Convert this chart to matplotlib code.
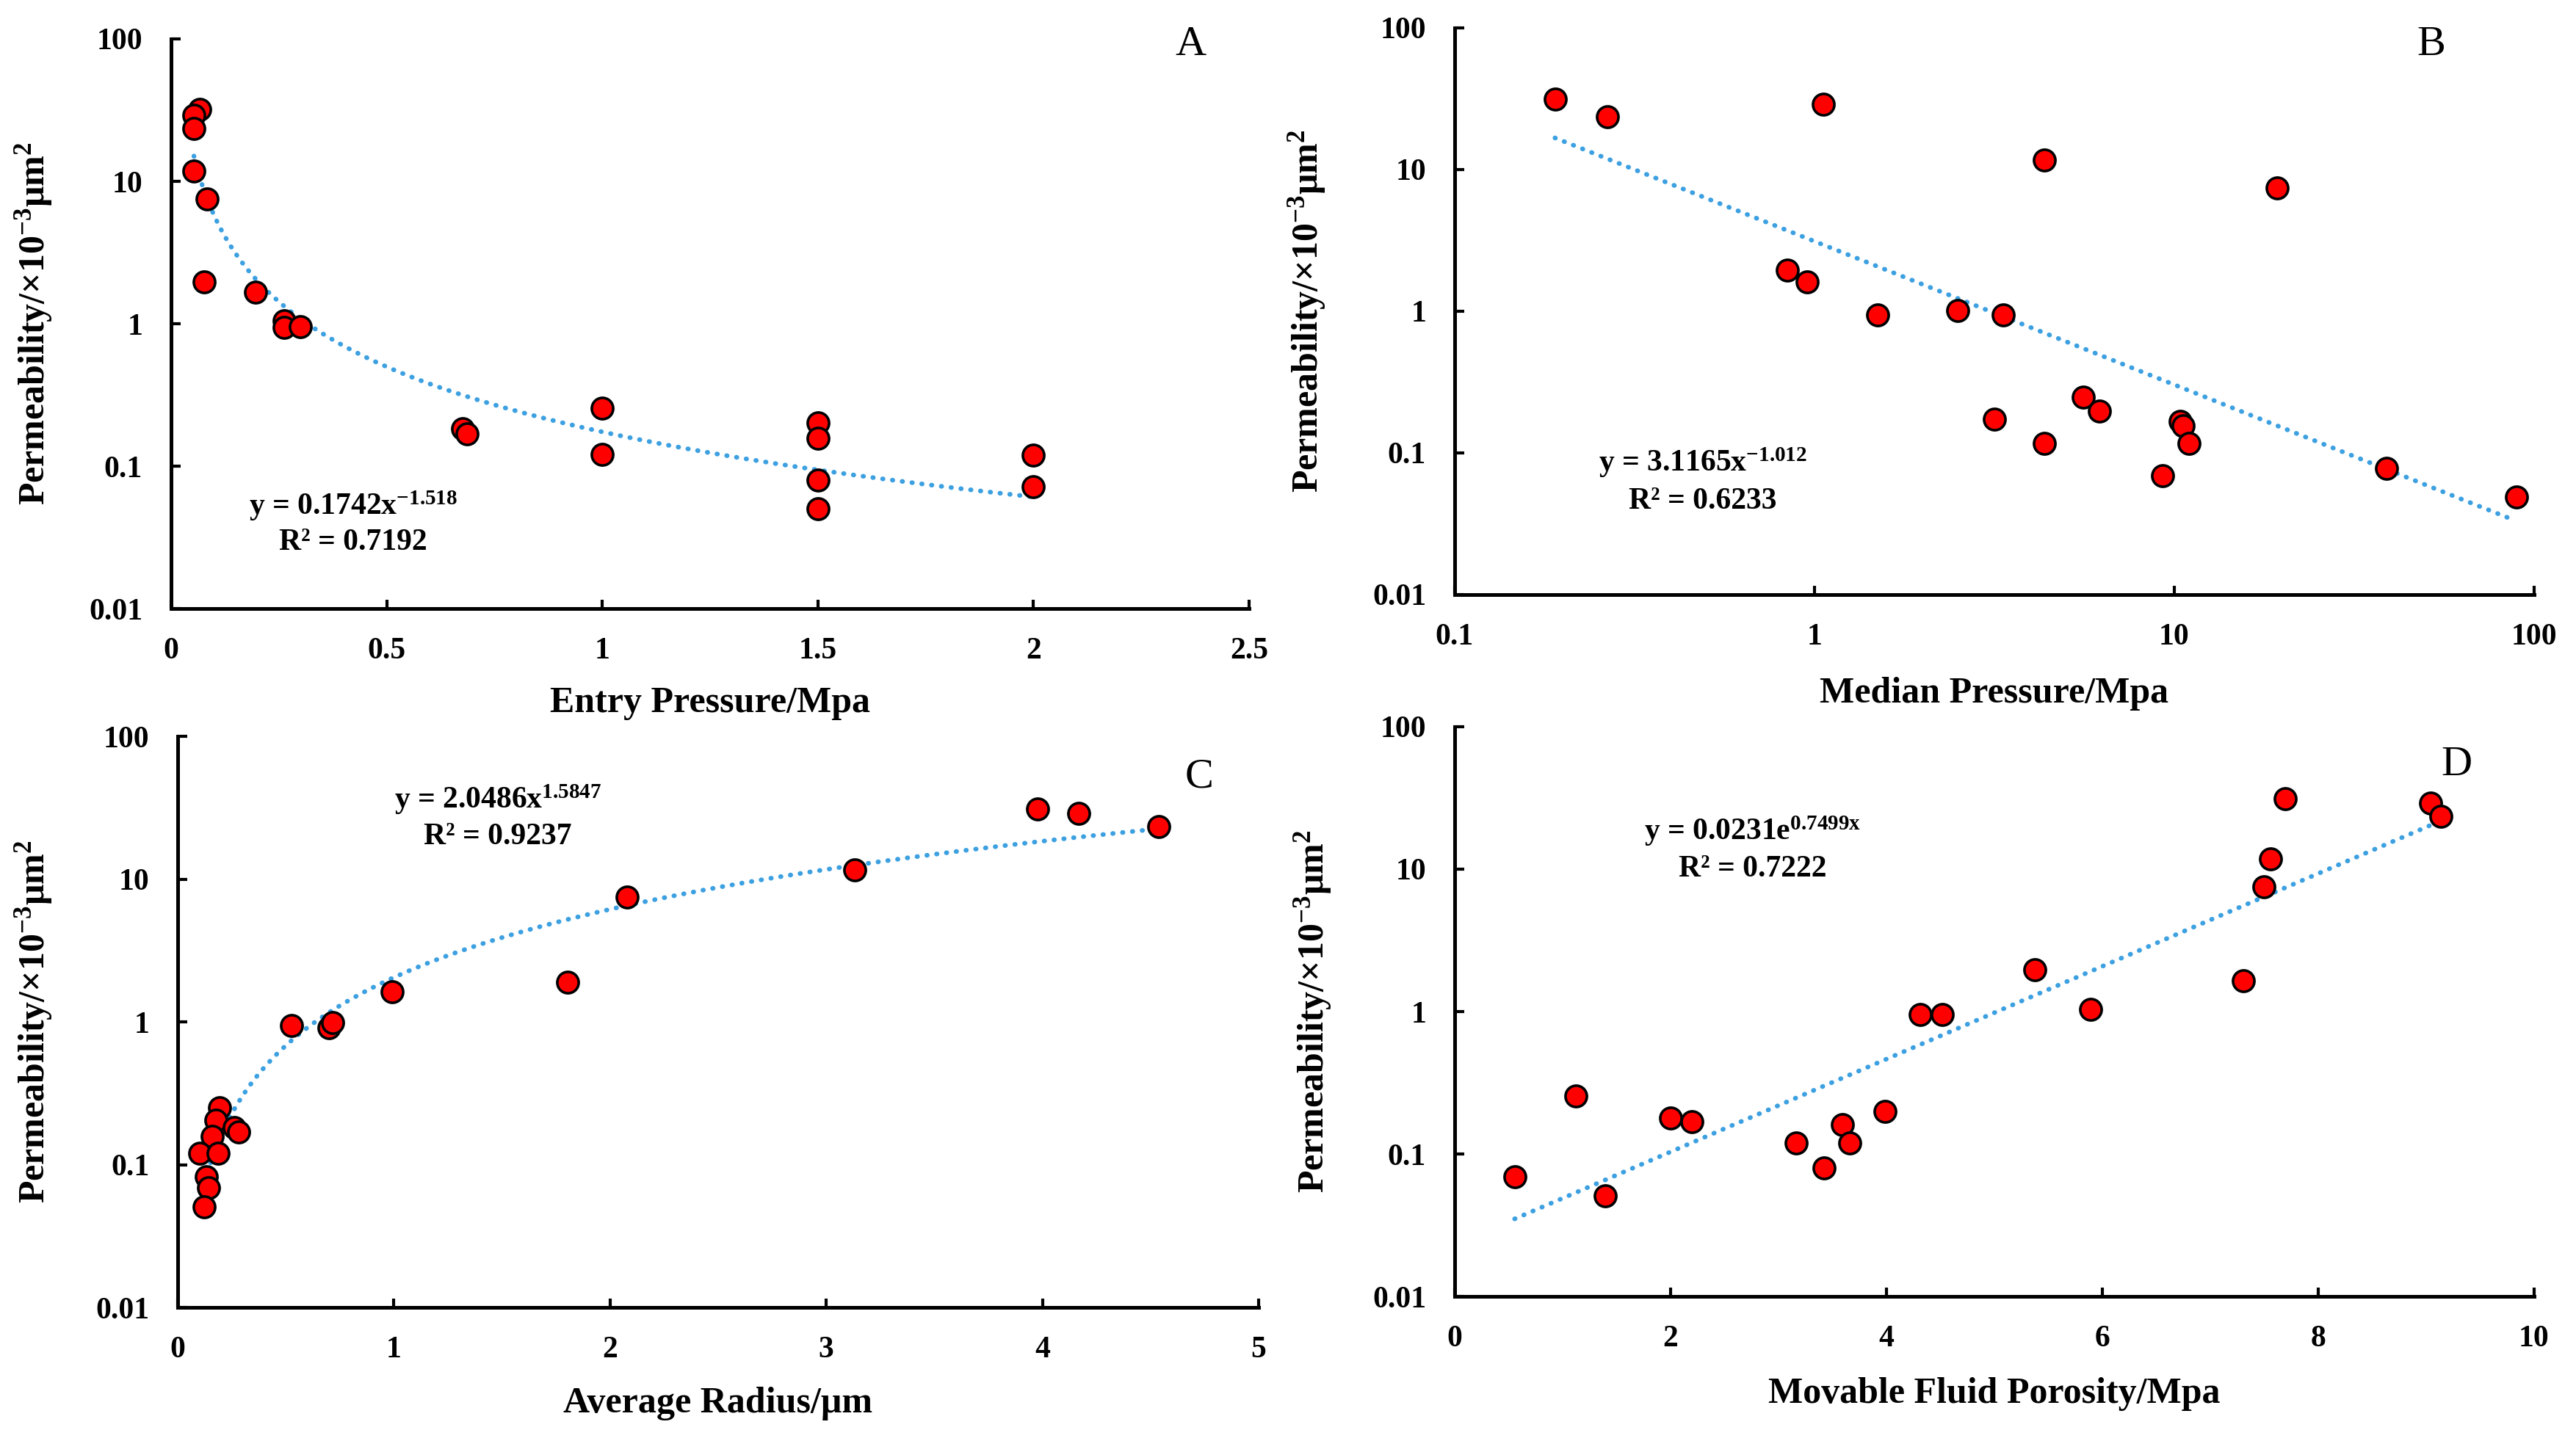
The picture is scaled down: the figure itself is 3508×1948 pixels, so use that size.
import numpy as np
import matplotlib
matplotlib.use("Agg")
import matplotlib.pyplot as plt
from matplotlib.ticker import FixedLocator, FixedFormatter, NullLocator

plt.rcParams['font.family'] = ['Liberation Serif', 'DejaVu Serif']
plt.rcParams['mathtext.fontset'] = 'custom'
plt.rcParams['mathtext.rm'] = 'Liberation Serif:bold'
plt.rcParams['mathtext.it'] = 'Liberation Serif:bold'
plt.rcParams['mathtext.bf'] = 'Liberation Serif:bold'
plt.rcParams['mathtext.default'] = 'rm'

# permeability, x10^-3 um^2 (same 20 samples)
entry_p = [0.067, 0.053, 0.053, 0.053, 0.084, 0.076, 0.196, 0.263, 0.263, 0.30,
           0.676, 0.686, 1.0, 1.0, 1.5, 1.5, 1.5, 1.5, 2.0, 2.0]
perm_a = [31.9, 29.2, 23.4, 11.8, 7.48, 1.97, 1.66, 1.05, 0.94, 0.95,
          0.184, 0.168, 0.256, 0.121, 0.202, 0.158, 0.080, 0.050, 0.12, 0.0715]

median_p = [0.190, 0.266, 1.06, 4.36, 19.3, 0.841, 0.953, 1.50, 2.50, 3.35,
            5.58, 6.20, 3.16, 4.36, 10.4, 10.6, 11.0, 9.29, 39.0, 89.5]
perm_b = [31.3, 23.6, 28.8, 11.7, 7.38, 1.95, 1.62, 0.94, 1.01, 0.94,
          0.248, 0.198, 0.174, 0.117, 0.167, 0.155, 0.117, 0.069, 0.078, 0.049]

avg_radius = [3.978, 4.168, 4.537, 3.131, 2.078, 1.805, 0.992, 0.528, 0.699, 0.718,
              0.194, 0.175, 0.160, 0.103, 0.186, 0.262, 0.281, 0.133, 0.144, 0.122]
perm_c = [30.9, 28.7, 23.3, 11.6, 7.46, 1.89, 1.63, 0.946, 0.91, 0.99,
          0.250, 0.204, 0.158, 0.12, 0.12, 0.182, 0.17, 0.0824, 0.069, 0.0504]

mf_porosity = [7.694, 9.041, 9.140, 7.557, 7.496, 5.373, 7.306, 5.890, 4.315, 4.521,
               1.126, 2.002, 2.199, 3.988, 3.592, 3.166, 3.661, 3.425, 0.556, 1.393]
perm_d = [31.2, 29.2, 23.6, 11.8, 7.48, 1.97, 1.65, 1.04, 0.957, 0.957,
          0.254, 0.180, 0.169, 0.200, 0.160, 0.12, 0.12, 0.080, 0.0695, 0.0506]

# fitted trend lines as printed on the chart
fit_a = (0.1742, -1.518)
fit_b = (3.1165, -1.012)
fit_c = (2.0486, 1.5847)
fit_d = (0.0231, 0.7499)

y_ticks = [0.01, 0.1, 1, 10, 100]
y_labels = ['0.01', '0.1', '1', '10', '100']
ylab = r'Permeability/×10$^{-3}$μm$^{2}$'

fig = plt.figure(figsize=(17.54, 9.74), dpi=200)
axA = fig.add_axes([0.0664, 0.5744, 0.4185, 0.3984])
axB = fig.add_axes([0.5647, 0.5842, 0.4190, 0.3963])
axC = fig.add_axes([0.0690, 0.0857, 0.4196, 0.3994])
axD = fig.add_axes([0.5647, 0.0934, 0.4190, 0.3984])

trend_color = '#3CA0E1'


def style(ax, xlabel, xticks, xlabels, letter, letter_xy, ylab_x, xlab_y):
    ax.set_yscale('log')
    ax.set_ylim(0.01, 100)
    ax.yaxis.set_major_locator(FixedLocator(y_ticks))
    ax.yaxis.set_major_formatter(FixedFormatter(y_labels))
    ax.yaxis.set_minor_locator(NullLocator())
    ax.xaxis.set_major_locator(FixedLocator(xticks))
    ax.xaxis.set_major_formatter(FixedFormatter(xlabels))
    ax.xaxis.set_minor_locator(NullLocator())
    for s in ['top', 'right']:
        ax.spines[s].set_visible(False)
    for s in ['left', 'bottom']:
        ax.spines[s].set_linewidth(1.8)
    ax.tick_params(direction='in', length=4.5, width=1.5, pad=14, labelsize=15)
    for t in ax.get_xticklabels() + ax.get_yticklabels():
        t.set_fontweight('bold')
    ax.set_xlabel(xlabel, fontsize=18, fontweight='bold')
    ax.set_ylabel(ylab, fontsize=18, fontweight='bold')
    ax.yaxis.set_label_coords(ylab_x, 0.5)
    ax.xaxis.set_label_coords(0.5, xlab_y)
    ax.text(letter_xy[0], letter_xy[1], letter, transform=ax.transAxes,
            fontsize=21, ha='center', va='center')


def points(ax, x, y):
    ax.scatter(x, y, s=110, c='#FF0000', edgecolors='black', linewidths=1.3, zorder=3)


def trend(ax, xs, ys):
    ax.plot(xs, ys, color=trend_color, lw=2.3, linestyle=(0, (0.1, 2.0)),
            dash_capstyle='round', zorder=2)


def eq(ax, x, y1, y2, s1, s2):
    ax.text(x, y1, s1, transform=ax.transAxes, fontsize=15, fontweight='bold',
            ha='center', va='center')
    ax.text(x, y2, s2, transform=ax.transAxes, fontsize=15, fontweight='bold',
            ha='center', va='center')


# A
xa = np.linspace(min(entry_p), max(entry_p), 200)
trend(axA, xa, fit_a[0] * xa ** fit_a[1])
points(axA, entry_p, perm_a)
axA.set_xlim(0, 2.5)
style(axA, 'Entry Pressure/Mpa', [0, 0.5, 1, 1.5, 2, 2.5],
      ['0', '0.5', '1', '1.5', '2', '2.5'], 'A', (0.946, 0.99), -0.108, -0.136)
eq(axA, 0.169, 0.180, 0.116, r'y = 0.1742x$^{-1.518}$', 'R² = 0.7192')

# B
xb = np.geomspace(min(median_p), 88, 200)
trend(axB, xb, fit_b[0] * xb ** fit_b[1])
points(axB, median_p, perm_b)
axB.set_xscale('log')
axB.set_xlim(0.1, 100)
style(axB, 'Median Pressure/Mpa', [0.1, 1, 10, 100],
      ['0.1', '1', '10', '100'], 'B', (0.905, 0.97), -0.118, -0.145)
eq(axB, 0.230, 0.233, 0.165, r'y = 3.1165x$^{-1.012}$', 'R² = 0.6233')

# C
xc = np.linspace(min(avg_radius), max(avg_radius), 200)
trend(axC, xc, fit_c[0] * xc ** fit_c[1])
points(axC, avg_radius, perm_c)
axC.set_xlim(0, 5)
style(axC, 'Average Radius/μm', [0, 1, 2, 3, 4, 5],
      ['0', '1', '2', '3', '4', '5'], 'C', (0.945, 0.929), -0.114, -0.139)
eq(axC, 0.296, 0.889, 0.824, r'y = 2.0486x$^{1.5847}$', 'R² = 0.9237')

# D
xd = np.linspace(min(mf_porosity), max(mf_porosity), 200)
trend(axD, xd, fit_d[0] * np.exp(fit_d[1] * xd))
points(axD, mf_porosity, perm_d)
axD.set_xlim(0, 10)
style(axD, 'Movable Fluid Porosity/Mpa', [0, 2, 4, 6, 8, 10],
      ['0', '2', '4', '6', '8', '10'], 'D', (0.928, 0.933), -0.112, -0.142)
eq(axD, 0.276, 0.817, 0.750, r'y = 0.0231e$^{0.7499x}$', 'R² = 0.7222')

fig.savefig('out.png', dpi=200)
